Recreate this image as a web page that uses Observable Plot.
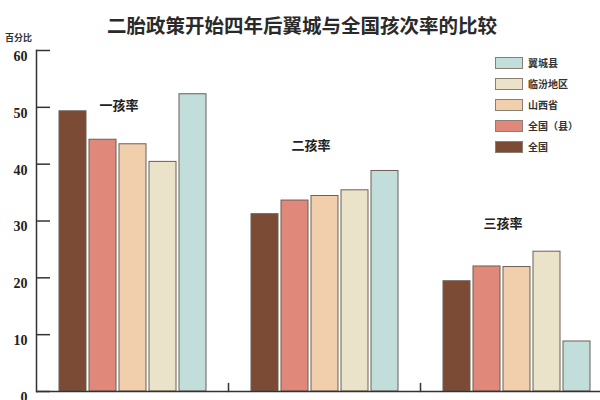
<!DOCTYPE html>
<html>
<head>
<meta charset="utf-8">
<script src="https://cdn.jsdelivr.net/npm/d3@7"></script>
<script src="https://cdn.jsdelivr.net/npm/@observablehq/plot@0.6"></script>
<style>
  html, body { margin: 0; padding: 0; background: #fff; }
  #wrap { position: relative; width: 600px; height: 400px; overflow: hidden; font-family: "Noto Sans CJK SC", "Noto Sans", sans-serif; }
  #title { position: absolute; left: 0; top: 10px; width: 604px; text-align: center; font-size: 19.5px; font-weight: 700; color: #2a2a2a; line-height: 30px; }
  #unit { position: absolute; left: 5px; top: 31px; font-size: 9px; font-weight: 700; color: #333; }
  #chart { position: absolute; left: 0; top: 40px; }
  #legend { position: absolute; left: 495px; top: 52px; }
  .row { display: flex; align-items: center; height: 21px; }
  .sw { width: 28px; height: 12px; border: 1px solid #8a7f74; box-sizing: border-box; margin-right: 5px; }
  .lb { font-size: 10px; font-weight: 700; color: #333; }
</style>
</head>
<body>
<div id="wrap">
  <div id="title">二胎政策开始四年后翼城与全国孩次率的比较</div>
  <div id="unit">百分比</div>
  <div id="chart"></div>
  <div id="legend"></div>
</div>
<script>
// ---- data ----
const groups = ["一孩率", "二孩率", "三孩率"];
const series = ["全国", "全国（县）", "山西省", "临汾地区", "翼城县"];
const valuesNational = [49.3, 31.2, 19.4];
const valuesNationalCounty = [44.3, 33.6, 22.0];
const valuesShanxi = [43.5, 34.4, 21.9];
const valuesLinfen = [40.4, 35.4, 24.6];
const valuesYicheng = [52.3, 38.8, 8.8];
const groupLabelLevel = [50.2, 43.3, 29.5];
const yTicks = [0, 10, 20, 30, 40, 50, 60];
const colors = ["#7b4b36", "#e0897a", "#f2cfac", "#ebe3c9", "#c2dedb"];
const legendOrder = ["翼城县", "临汾地区", "山西省", "全国（县）", "全国"];

const seriesValues = [valuesNational, valuesNationalCounty, valuesShanxi, valuesLinfen, valuesYicheng];
const table = [];
groups.forEach((g, gi) => series.forEach((s, si) => table.push({group: g, series: s, value: seriesValues[si][gi]})));
const labelRows = groups.map((g, i) => ({group: g, level: groupLabelLevel[i]}));

const lineShape = { draw(context, l) { context.moveTo(0, 0); context.lineTo(0, -l); } };

const chart = Plot.plot({
  width: 600,
  height: 360,
  marginLeft: 36,
  marginRight: -12,
  marginTop: 10,
  marginBottom: 9,
  style: { background: "transparent", overflow: "visible" },
  fx: { domain: groups, padding: 0, axis: null },
  x: { domain: series, paddingInner: 0.1, paddingOuter: 0.655, axis: null },
  y: { domain: [0, 60], axis: null },
  color: { domain: series, range: colors },
  marks: [
    Plot.barY(table, { fx: "group", x: "series", y: "value", fill: "series", stroke: "#6b5f55", strokeWidth: 1 }),
    Plot.ruleY([0], { stroke: "#333", strokeWidth: 1.5 }),
    Plot.frame({ anchor: "left", facetAnchor: "left", stroke: "#333", strokeWidth: 1.5 }),
    Plot.axisY({ ticks: yTicks, tickSize: 14, dx: 14, fill: "none", stroke: "#333", strokeWidth: 1.5 }),
    Plot.axisY({ ticks: yTicks, tickSize: 0, tickPadding: 9, dy: 6, fontSize: 14, fontWeight: "bold", fontFamily: "Liberation Serif", fill: "#222" }),
    Plot.vector(["二孩率", "三孩率"], { fx: d => d, frameAnchor: "bottom-left", length: 8, anchor: "start", shape: lineShape, stroke: "#333", strokeWidth: 1.5 }),
    Plot.text(labelRows, { fx: "group", x: () => "山西省", y: "level", text: "group", dx: -14, fontSize: 13, fontWeight: "bold", fontFamily: "Noto Sans CJK SC", fill: "#222" })
  ]
});
document.getElementById("chart").appendChild(chart);

const legend = document.getElementById("legend");
legendOrder.forEach(name => {
  const row = document.createElement("div");
  row.className = "row";
  const sw = document.createElement("div");
  sw.className = "sw";
  sw.style.background = colors[series.indexOf(name)];
  const lb = document.createElement("span");
  lb.className = "lb";
  lb.textContent = name;
  row.appendChild(sw);
  row.appendChild(lb);
  legend.appendChild(row);
});
</script>
</body>
</html>
